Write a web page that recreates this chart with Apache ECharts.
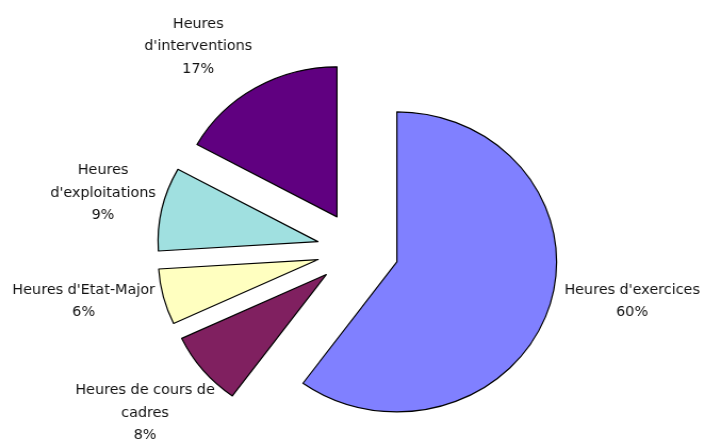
<!DOCTYPE html>
<html>
<head>
<meta charset="utf-8">
<script src="https://cdn.jsdelivr.net/npm/echarts@6/dist/echarts.min.js"></script>
<style>
  html, body { margin: 0; padding: 0; background: #fff; overflow: hidden; }
  /* the original picture is a little wider than tall, so the pie is stretched */
  #chart { width: 662px; height: 439px; transform: scaleX(1.065); transform-origin: 0 0; }
</style>
</head>
<body>
<div id="chart"></div>
<script>
const categories = ["Heures d'exercices", "Heures de cours de\ncadres", "Heures d'Etat-Major", "Heures\nd'exploitations", "Heures\nd'interventions"];
const shares = [60, 8, 6, 9, 17];
const colors = ['#8080FF', '#802060', '#FFFFC0', '#A0E0E0', '#600080'];

// [length, length2] of the (hidden) label line, per slice
const labelLen = [[-22.5, 31], [67.5, -68], [19.5, -16], [72.5, -70], [47.5, -26]];

const myChart = echarts.init(document.getElementById('chart'));

const option = {
  animation: false,
  series: [
    {
      type: 'pie',
      center: [336, 250],
      radius: 150,
      startAngle: 90,
      clockwise: true,
      selectedMode: 'multiple',
      selectedOffset: 38.5,
      avoidLabelOverlap: false,
      emphasis: { disabled: true },
      itemStyle: { borderColor: '#000', borderWidth: 1.2 },
      select: { itemStyle: { borderColor: '#000', borderWidth: 1.2 } },
      label: {
        show: true,
        position: 'outside',
        color: '#111',
        fontFamily: 'DejaVu Sans',
        fontSize: 13.5,
        lineHeight: 22.5,
        verticalAlign: 'middle',
        formatter: function (p) {
          const lines = p.name.split('\n').concat([p.value + '%']);
          return lines.map(function (l) { return '{c|' + l + '}'; }).join('\n');
        },
        rich: {
          c: { align: 'center', fontFamily: 'DejaVu Sans', fontSize: 13.5, lineHeight: 22.5, color: '#111' }
        }
      },
      labelLine: { show: false },
      data: categories.map(function (name, i) {
        return {
          name: name,
          value: shares[i],
          selected: true,
          itemStyle: { color: colors[i] },
          labelLine: { show: false, length: labelLen[i][0], length2: labelLen[i][1] }
        };
      })
    }
  ]
};
myChart.setOption(option);
</script>
</body>
</html>
